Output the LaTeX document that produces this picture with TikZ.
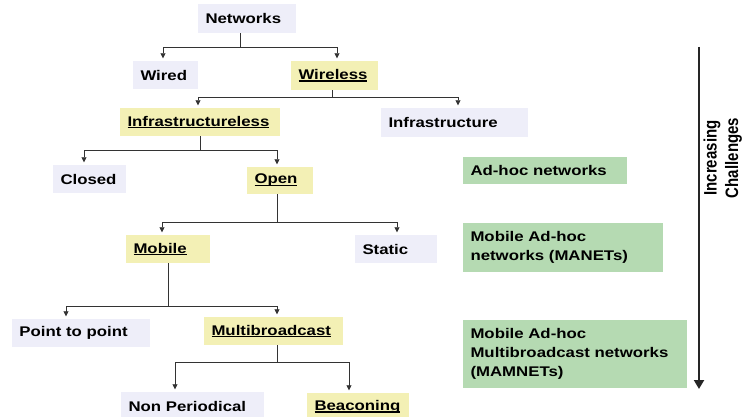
\documentclass[tikz,border=0pt]{standalone}
\usepackage{graphicx}
\usepackage{fontspec}
\setmainfont{Liberation Sans}[FakeStretch=1.2]
\newfontfamily\sidefont{Liberation Sans}
\usetikzlibrary{arrows.meta}
\definecolor{lav}{HTML}{EEEEF9}
\definecolor{straw}{HTML}{F3F0B5}
\definecolor{sage}{HTML}{B5DAB2}
\newcommand{\ulterm}[1]{\setbox0\hbox{#1}\rlap{\rule[-2pt]{\wd0}{1.2pt}}\box0}

\begin{document}
\begin{tikzpicture}[x=1pt,y=-1pt,font=\fontsize{14}{19}\selectfont\bfseries,
 box/.style={fill=#1,inner xsep=7.5pt,inner ysep=0pt,align=left},
 box/.default=lav,
 arr/.style={-{Triangle[width=5pt,length=5pt]},draw=black!80,line width=.8pt,shorten >=2.5pt}]
\useasboundingbox (0,0) rectangle (745,417);
\fill[white] (0,0) rectangle (745,417);
\node[box,text width=83pt,minimum height=29pt] (net) at (247,18.5) {Networks};
\node[box,text width=50pt,minimum height=28pt] (wired) at (165.5,75) {Wired};
\node[box=straw,text width=72pt,minimum height=29pt] (wless) at (334.5,75.5) {\ulterm{Wireless}};
\node[box=straw,text width=145pt,minimum height=28pt] (infl) at (200,122) {\ulterm{Infrastructureless}};
\node[box,text width=132pt,minimum height=29pt] (infra) at (454.5,122.5) {Infrastructure};
\node[box,text width=58pt,minimum height=28pt] (closed) at (89.5,179) {Closed};
\node[box=straw,text width=51pt,minimum height=27pt] (open) at (280,180.5) {\ulterm{Open}};
\node[box=straw,text width=69pt,minimum height=28pt] (mob) at (168,249) {\ulterm{Mobile}};
\node[box,text width=67pt,minimum height=28pt] (stat) at (396,249) {Static};
\node[box,text width=123pt,minimum height=28pt] (ptp) at (81,333) {Point to point};
\node[box=straw,text width=124pt,minimum height=28pt] (multi) at (273.5,331) {\ulterm{Multibroadcast}};
\node[box,text width=128pt,minimum height=29pt] (nonp) at (192.5,406.5) {Non Periodical};
\node[box=straw,text width=87pt,minimum height=28pt] (beac) at (358,407) {\ulterm{Beaconing}};
\foreach \p/\ps/\d/\ch/\cs in {net/-7/14/wired/-2.5,net/-7/14/wless/2.5,
 wless/-2.5/7/infl/-2,wless/-2.5/7/infra/3.5,
 infl/0/14/closed/-5.5,infl/0/14/open/-3,
 open/-3/28/mob/-6,open/-3/28/stat/1,
 mob/0/43/ptp/-15,mob/0/43/multi/3.5,
 multi/3.5/17/nonp/-17.5,multi/3.5/17/beac/-9}
 \draw[arr] ([xshift=\ps pt]\p.south) -- ++(0,\d) -| ([xshift=\cs pt]\ch.north);
\node[box=sage,text width=149pt,minimum height=27pt] (adhoc) at (545,170.5) {Ad-hoc networks};
\node[box=sage,text width=185pt,minimum height=49pt] (manet) at (563,247.5) {Mobile Ad-hoc\\ networks (MANETs)};
\node[box=sage,text width=209pt,minimum height=68pt] (mamnet) at (575,354) {Mobile Ad-hoc\\ Multibroadcast networks\\ (MAMNETs)};
\coordinate (ctop) at (699,47);
\coordinate (cbot) at (699,389);
\draw[line width=2pt,black!85,-{Triangle[width=10pt,length=9pt]}] (ctop) -- (cbot);
\node[rotate=90,inner sep=0pt,font=\sidefont\fontsize{15}{18}\selectfont\bfseries] (chal) at (723,158)
 {\scalebox{1}[1.2]{\begin{tabular}{@{}c@{}}Increasing\\ Challenges\end{tabular}}};
\end{tikzpicture}
\end{document}
